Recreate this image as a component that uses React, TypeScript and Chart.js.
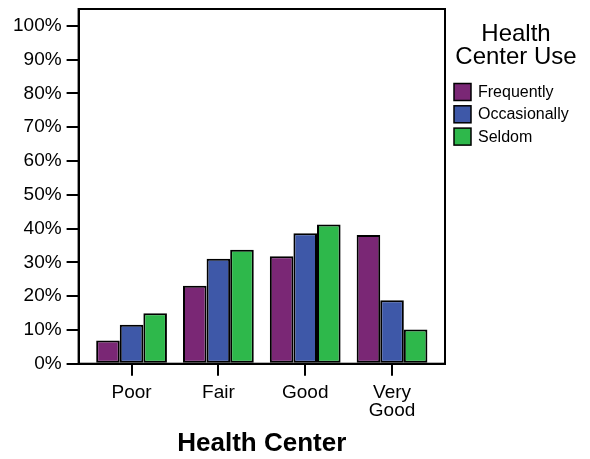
import React, { useEffect, useRef } from 'react';
import { Chart, registerables } from 'chart.js';

Chart.register(...registerables);

const categories: string[][] = [['Poor'], ['Fair'], ['Good'], ['Very', 'Good']];
const seriesNames = ['Frequently', 'Occasionally', 'Seldom'];
const frequently = [6.9, 23.1, 31.8, 38.1];
const occasionally = [11.5, 31.1, 38.6, 18.8];
const seldom = [14.9, 33.7, 41.2, 10.1];
const yTickValues = [0, 10, 20, 30, 40, 50, 60, 70, 80, 90, 100];
const legendTitle = ['Health', 'Center Use'];
const xTitle = 'Health Center';

const colors = ['#7A2775', '#3E58A8', '#2EB84B'];
const FONT = "'Liberation Sans', Arial, Helvetica, sans-serif";

const framePlugin = {
  id: 'frame',
  afterDraw(chart: any) {
    const { ctx, chartArea } = chart;
    ctx.save();
    ctx.strokeStyle = '#000';
    ctx.lineWidth = 2;
    ctx.strokeRect(chartArea.left, chartArea.top, chartArea.right - chartArea.left, chartArea.bottom - chartArea.top);
    ctx.restore();
  },
};

const legendPlugin = {
  id: 'customLegend',
  afterDraw(chart: any) {
    const { ctx, chartArea } = chart;
    const x0 = chartArea.right;
    ctx.save();
    ctx.fillStyle = '#000';
    ctx.textAlign = 'center';
    ctx.textBaseline = 'alphabetic';
    ctx.font = `24px ${FONT}`;
    legendTitle.forEach((line, i) => {
      ctx.fillText(line, x0 + 71, 41 + i * 23);
    });
    ctx.font = `16px ${FONT}`;
    ctx.textAlign = 'left';
    ctx.textBaseline = 'middle';
    chart.data.datasets.forEach((ds: any, i: number) => {
      const top = 83.5 + i * 22.3;
      ctx.fillStyle = ds.backgroundColor;
      ctx.fillRect(x0 + 9, top, 17, 17);
      ctx.strokeStyle = '#000';
      ctx.lineWidth = 1.5;
      ctx.strokeRect(x0 + 9, top, 17, 17);
      ctx.fillStyle = '#000';
      ctx.fillText(ds.label, x0 + 33, top + 9);
    });
    ctx.restore();
  },
};

export default function App() {
  const ref = useRef<HTMLCanvasElement | null>(null);

  useEffect(() => {
    document.body.style.margin = '0';
    if (!ref.current) return;
    Chart.defaults.font.family = FONT;
    Chart.defaults.color = '#000';
    const series = [frequently, occasionally, seldom];
    const chart = new Chart(ref.current, {
      type: 'bar',
      data: {
        datasets: series.map((vals, i) => ({
          label: seriesNames[i],
          data: vals.map((v, j) => ({ x: j, y: v })),
          backgroundColor: colors[i],
          borderColor: '#000',
          borderWidth: 2,
          borderSkipped: false,
          categoryPercentage: 0.815,
          barPercentage: 1.0,
        })),
      },
      options: {
        responsive: false,
        animation: false,
        layout: { padding: { left: 8, right: 145, top: 9, bottom: 0 } },
        plugins: { legend: { display: false }, tooltip: { enabled: false } },
        scales: {
          x: {
            type: 'linear',
            min: -0.61,
            max: 3.61,
            offset: false,
            afterBuildTicks: (scale: any) => {
              scale.ticks = categories.map((_, i) => ({ value: i }));
            },
            grid: {
              offset: false,
              drawOnChartArea: false,
              drawTicks: true,
              tickLength: 12,
              color: '#000',
              lineWidth: 2,
            },
            border: { display: true, color: '#000', width: 2 },
            ticks: {
              font: { size: 19, lineHeight: 0.95 },
              color: '#000',
              padding: 8,
              maxRotation: 0,
              autoSkip: false,
              callback: (v: any) => categories[Math.round(Number(v))] ?? '',
            },
            title: {
              display: true,
              text: xTitle,
              font: { size: 26, weight: 'bold' },
              color: '#000',
              padding: { top: 0, bottom: 0 },
            },
          },
          y: {
            type: 'linear',
            min: 0,
            max: 105,
            afterBuildTicks: (scale: any) => {
              scale.ticks = yTickValues.map((v) => ({ value: v }));
            },
            afterFit: (scale: any) => {
              scale.paddingTop = 0;
            },
            grid: {
              drawOnChartArea: false,
              drawTicks: true,
              tickLength: 12,
              color: '#000',
              lineWidth: 2,
            },
            border: { display: true, color: '#000', width: 2 },
            ticks: {
              font: { size: 19 },
              color: '#000',
              padding: 5,
              callback: (v: any) => `${v}%`,
            },
          },
        },
      },
      plugins: [framePlugin, legendPlugin],
    } as any);
    return () => chart.destroy();
  }, []);

  return (
    <div style={{ width: 590, height: 459 }}>
      <canvas ref={ref} width={590} height={459} />
    </div>
  );
}
